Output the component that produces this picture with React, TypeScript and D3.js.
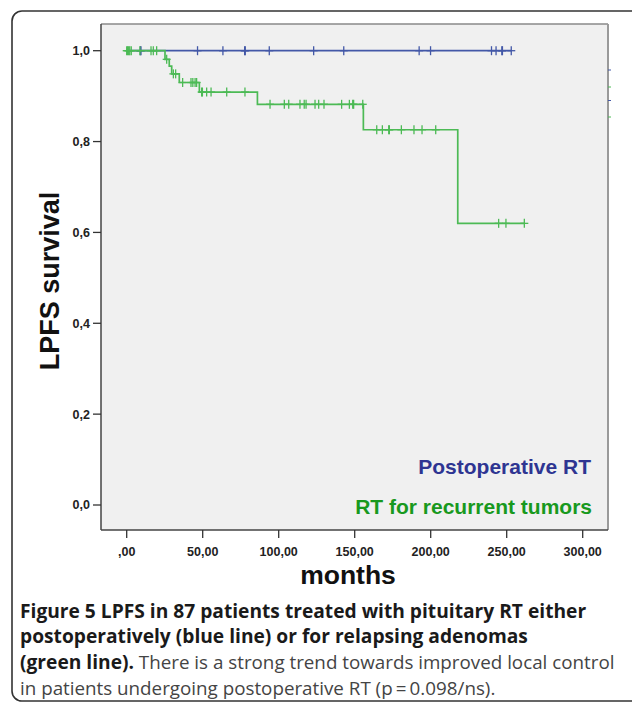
import React from "react";
import * as d3 from "d3";

// ---- data ----
const xTicks = [0, 50, 100, 150, 200, 250, 300];
const yTicks = [0, 0.2, 0.4, 0.6, 0.8, 1.0];

// Postoperative RT (blue): no events, censored times
const blueEventTimes: number[] = [];
const blueSurvival: number[] = [];
const blueCensor = [9, 9.4, 46.6, 63.3, 77.6, 78, 93.8, 123, 142.8, 192.4, 199.9, 240, 243, 246.8, 247.2, 253];

// RT for recurrent tumors (green)
const greenEventTimes = [25.2, 28, 29.6, 34.6, 47.8, 86, 155.7, 217.8];
const greenSurvival = [0.981, 0.966, 0.949, 0.93, 0.909, 0.882, 0.826, 0.62];
const greenCensor = [
  0, 0.6, 1.3, 2, 3, 8.7, 16, 17.5, 19.7,
  26.3, 30.7, 32.2, 36.8, 42.3, 43.5, 45, 46,
  49.3, 49.8, 52.6, 55.5, 65.8, 77.8,
  94.3, 103.7, 106.6, 114, 116.8, 118, 123.9, 126.3, 129.8, 141.4, 146.5, 148.7, 149.3, 155.3,
  164.5, 168.2, 172.4, 172.8, 180.7, 189, 194.3, 203.3,
  244.7, 249.5, 261.6,
];

const seriesNames = ["Postoperative RT", "RT for recurrent tumors"];
const seriesColors = ["#4358a7", "#4cba55"];
const legendColors = ["#2e3592", "#18991e"];

const captionLines = [
  [{ t: "Figure 5 LPFS in 87 patients treated with pituitary RT either", b: true }],
  [{ t: "postoperatively (blue line) or for relapsing adenomas", b: true }],
  [
    { t: "(green line).", b: true },
    { t: " There is a strong trend towards improved local control", b: false },
  ],
  [{ t: "in patients undergoing postoperative RT (p\u2009=\u20090.098/ns).", b: false }],
];

// ---- helpers ----
function survAt(t: number, times: number[], surv: number[]) {
  let s = 1;
  for (let i = 0; i < times.length; i++) if (times[i] <= t) s = surv[i];
  return s;
}

export default function App() {
  const W = 632;
  const H = 708;
  const plot = { left: 101, right: 608, top: 24, bottom: 530 };
  const x = d3.scaleLinear().domain([0, 300]).range([126.7, 582.7]);
  const y = d3.scaleLinear().domain([0, 1]).range([505, 50.7]);

  const stepPath = (times: number[], surv: number[], censor: number[]) => {
    const end = d3.max(censor) as number;
    const pts: [number, number][] = [[0, 1]];
    let s = 1;
    times.forEach((t, i) => {
      pts.push([t, s]);
      s = surv[i];
      pts.push([t, s]);
    });
    pts.push([end, s]);
    return d3
      .line<[number, number]>()
      .x((d) => x(d[0]))
      .y((d) => y(d[1]))(pts) as string;
  };

  const series = [
    { times: blueEventTimes, surv: blueSurvival, censor: blueCensor },
    { times: greenEventTimes, surv: greenSurvival, censor: greenCensor },
  ];

  const sans = "'Liberation Sans', Arial, sans-serif";
  const capFont = "'Open Sans', 'Noto Sans', sans-serif";

  return (
    <svg
      width={W}
      height={H}
      style={{ position: "absolute", left: 0, top: 0, background: "#fff" }}
    >
      {/* outer rounded frame */}
      <rect x={12} y={11} width={650} height={690} rx={10} ry={10} fill="none" stroke="#333" strokeWidth={1.6} />

      {/* plot background */}
      <rect x={plot.left} y={plot.top} width={plot.right - plot.left} height={plot.bottom - plot.top} fill="#f0f0f0" />
      <line x1={plot.left} x2={plot.right} y1={plot.top} y2={plot.top} stroke="#8a8a8a" strokeWidth={1.5} />
      <line x1={plot.right} x2={plot.right} y1={plot.top} y2={plot.bottom} stroke="#9a9a9a" strokeWidth={2} />
      <line x1={plot.left} x2={plot.left} y1={plot.top} y2={plot.bottom} stroke="#444" strokeWidth={1.5} />
      <line x1={plot.left} x2={plot.right} y1={plot.bottom} y2={plot.bottom} stroke="#444" strokeWidth={1.5} />

      {/* small artefact marks on right border */}
      {[70, 87, 100.5, 117].map((yy, i) => (
        <line key={i} x1={plot.right} x2={plot.right + 3} y1={yy} y2={yy} stroke={seriesColors[i % 2]} strokeWidth={1} />
      ))}

      {/* y axis */}
      {yTicks.map((v) => (
        <g key={v}>
          <line x1={plot.left - 8} x2={plot.left} y1={y(v)} y2={y(v)} stroke="#333" strokeWidth={1.3} />
          <text x={plot.left - 11} y={y(v)} dy="0.35em" textAnchor="end" fontFamily={sans} fontWeight="bold" fontSize={12.5} fill="#222">
            {v.toFixed(1).replace(".", ",")}
          </text>
        </g>
      ))}
      <text
        transform={`translate(59,281) rotate(-90)`}
        textAnchor="middle"
        fontFamily={sans}
        fontWeight="bold"
        fontSize={27}
        fill="#111"
      >
        LPFS survival
      </text>

      {/* x axis */}
      {xTicks.map((v) => (
        <g key={v}>
          <line x1={x(v)} x2={x(v)} y1={plot.bottom} y2={plot.bottom + 8} stroke="#333" strokeWidth={1.3} />
          <text x={x(v)} y={556} textAnchor="middle" fontFamily={sans} fontWeight="bold" fontSize={12.5} fill="#222">
            {v === 0 ? ",00" : v.toFixed(2).replace(".", ",")}
          </text>
        </g>
      ))}
      <text x={348} y={584} textAnchor="middle" fontFamily={sans} fontWeight="bold" fontSize={26.5} fill="#111">
        months
      </text>

      {/* curves */}
      {series.map((s, i) => (
        <g key={i}>
          <path d={stepPath(s.times, s.surv, s.censor)} fill="none" stroke={seriesColors[i]} strokeWidth={1.7} />
          {s.censor.map((c, j) => {
            const cx = x(c);
            const cy = y(survAt(c, s.times, s.surv));
            return (
              <g key={j} stroke={seriesColors[i]} strokeWidth={1.3}>
                <line x1={cx} x2={cx} y1={cy - 4.5} y2={cy + 4.5} />
                <line x1={cx - 4} x2={cx + 4} y1={cy} y2={cy} />
              </g>
            );
          })}
        </g>
      ))}

      {/* legend */}
      <text x={591} y={474} textAnchor="end" fontFamily={sans} fontWeight="bold" fontSize={21} fill={legendColors[0]}>
        {seriesNames[0]}
      </text>
      <text x={592} y={514} textAnchor="end" fontFamily={sans} fontWeight="bold" fontSize={21} fill={legendColors[1]}>
        {seriesNames[1]}
      </text>

      {/* caption */}
      {captionLines.map((parts, i) => (
        <text key={i} x={20} y={617.5 + i * 25.9} fontFamily={capFont} fill="#3a3a3a">
          {parts.map((p, k) => (
            <tspan key={k} fontWeight={p.b ? 700 : 400} fontSize={p.b ? 19.2 : 18.8} fill={p.b ? "#1a1a1a" : "#444"}>
              {p.t}
            </tspan>
          ))}
        </text>
      ))}
    </svg>
  );
}
